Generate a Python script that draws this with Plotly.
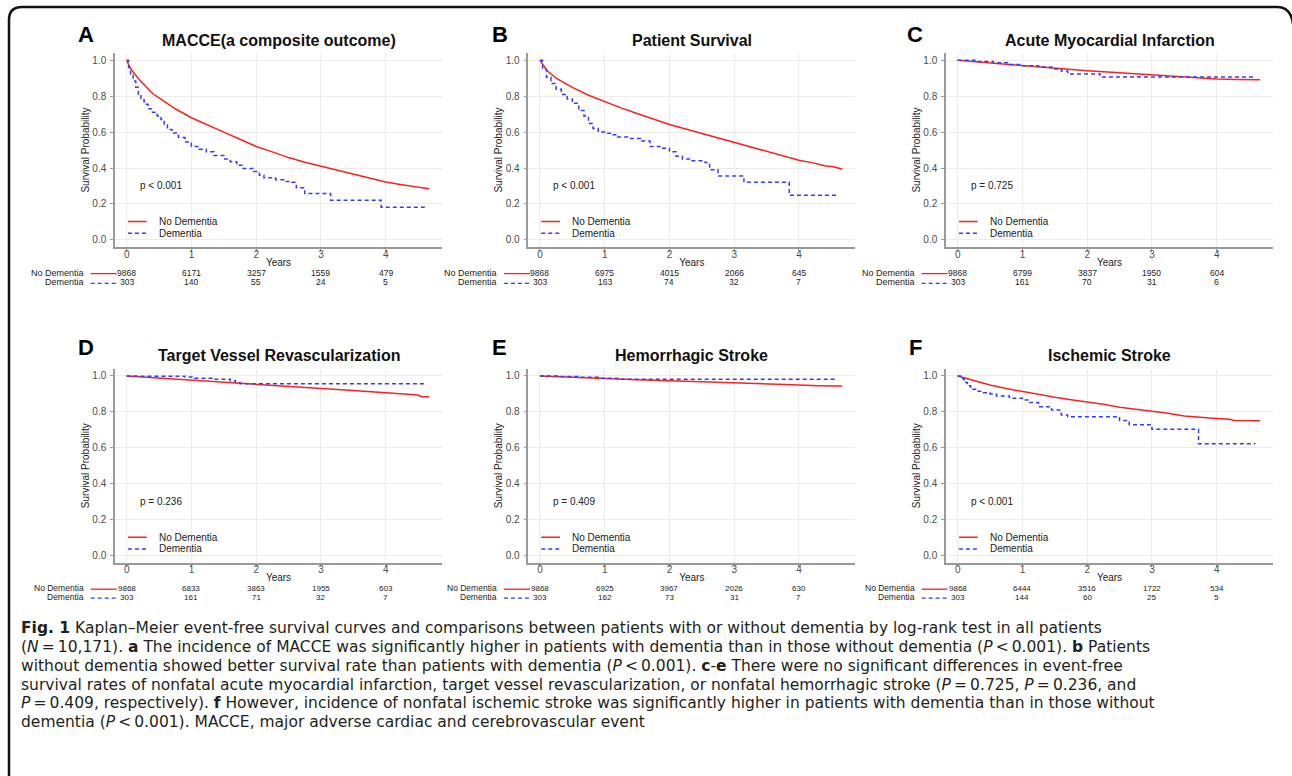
import plotly.graph_objects as go

W, H = 1292, 776

# ---------------- data ----------------
titles = ["MACCE(a composite outcome)", "Patient Survival", "Acute Myocardial Infarction",
          "Target Vessel Revascularization", "Hemorrhagic Stroke", "Ischemic Stroke"]
letters = ["A", "B", "C", "D", "E", "F"]
pvalues = ["p &lt; 0.001", "p &lt; 0.001", "p = 0.725", "p = 0.236", "p = 0.409", "p &lt; 0.001"]
groups = ["No Dementia", "Dementia"]
risk_times = [0, 1, 2, 3, 4]

A_nd_t = [0, 0.05, 0.1, 0.2, 0.3, 0.4, 0.5, 0.75, 1.0, 1.25, 1.5, 1.75, 2.0, 2.25, 2.5, 2.75, 3.0, 3.25, 3.5, 3.75, 4.0, 4.2, 4.4, 4.55, 4.67]
A_nd_s = [1.0, 0.96, 0.935, 0.89, 0.852, 0.815, 0.79, 0.73, 0.68, 0.638, 0.60, 0.56, 0.52, 0.49, 0.458, 0.432, 0.41, 0.386, 0.365, 0.343, 0.322, 0.31, 0.298, 0.293, 0.285]
A_d_t = [0, 0.03, 0.06, 0.1, 0.14, 0.18, 0.22, 0.27, 0.33, 0.4, 0.47, 0.53, 0.58, 0.63, 0.7, 0.8, 0.9, 1.0, 1.12, 1.23, 1.35, 1.5, 1.6, 1.7, 1.78, 1.96, 2.05, 2.12, 2.3, 2.45, 2.55, 2.62, 2.75, 3.15, 3.93, 4.63]
A_d_s = [1.0, 0.96, 0.92, 0.885, 0.85, 0.81, 0.78, 0.755, 0.73, 0.71, 0.69, 0.67, 0.64, 0.615, 0.595, 0.57, 0.545, 0.52, 0.505, 0.49, 0.47, 0.45, 0.435, 0.415, 0.397, 0.38, 0.36, 0.346, 0.335, 0.325, 0.32, 0.29, 0.258, 0.22, 0.182, 0.182]

B_nd_t = [0, 0.05, 0.1, 0.25, 0.5, 0.75, 1.0, 1.25, 1.5, 1.75, 2.0, 2.25, 2.5, 2.75, 3.0, 3.25, 3.5, 3.75, 4.0, 4.2, 4.4, 4.55, 4.67]
B_nd_s = [1.0, 0.97, 0.946, 0.90, 0.849, 0.805, 0.769, 0.735, 0.704, 0.672, 0.642, 0.617, 0.592, 0.566, 0.54, 0.515, 0.49, 0.465, 0.443, 0.43, 0.412, 0.405, 0.393]
B_d_t = [0, 0.04, 0.1, 0.17, 0.25, 0.33, 0.42, 0.5, 0.6, 0.68, 0.75, 0.82, 0.9, 1.0, 1.1, 1.2, 1.4, 1.55, 1.7, 1.85, 2.0, 2.1, 2.2, 2.35, 2.55, 2.62, 2.75, 3.15, 3.85, 4.6]
B_d_s = [1.0, 0.95, 0.905, 0.87, 0.838, 0.81, 0.785, 0.76, 0.72, 0.69, 0.648, 0.62, 0.60, 0.594, 0.585, 0.572, 0.565, 0.55, 0.52, 0.51, 0.49, 0.465, 0.45, 0.44, 0.43, 0.39, 0.355, 0.32, 0.248, 0.248]

C_nd_t = [0, 0.5, 1.0, 1.5, 2.0, 2.5, 3.0, 3.5, 4.0, 4.3, 4.67]
C_nd_s = [1.0, 0.985, 0.97, 0.956, 0.942, 0.93, 0.918, 0.907, 0.896, 0.893, 0.892]
C_d_t = [0, 0.3, 0.55, 0.8, 1.0, 1.25, 1.45, 1.6, 1.7, 2.2, 4.6]
C_d_s = [1.0, 0.993, 0.986, 0.976, 0.97, 0.962, 0.952, 0.94, 0.924, 0.907, 0.907]

D_nd_t = [0, 0.5, 1.0, 1.5, 2.0, 2.5, 3.0, 3.5, 4.0, 4.5, 4.55, 4.67]
D_nd_s = [1.0, 0.989, 0.978, 0.965, 0.952, 0.941, 0.931, 0.919, 0.907, 0.894, 0.885, 0.885]
D_d_t = [0, 0.2, 0.9, 1.05, 1.35, 1.6, 1.68, 1.75, 4.6]
D_d_s = [1.0, 0.999, 0.994, 0.988, 0.982, 0.974, 0.963, 0.957, 0.957]

E_nd_t = [0, 0.5, 1.0, 1.5, 2.0, 2.5, 3.0, 3.5, 4.0, 4.3, 4.67]
E_nd_s = [1.0, 0.992, 0.985, 0.979, 0.974, 0.969, 0.963, 0.957, 0.95, 0.946, 0.944]
E_d_t = [0, 0.3, 0.6, 0.9, 1.2, 4.6]
E_d_s = [1.0, 0.997, 0.993, 0.988, 0.982, 0.982]

F_nd_t = [0, 0.1, 0.25, 0.5, 0.75, 1.0, 1.25, 1.5, 1.75, 2.0, 2.25, 2.5, 2.75, 3.0, 3.25, 3.5, 3.75, 4.0, 4.2, 4.27, 4.67]
F_nd_s = [1.0, 0.99, 0.974, 0.95, 0.93, 0.913, 0.897, 0.881, 0.867, 0.855, 0.842, 0.826, 0.815, 0.805, 0.793, 0.777, 0.768, 0.763, 0.759, 0.752, 0.75]
F_d_t = [0, 0.05, 0.1, 0.15, 0.2, 0.3, 0.4, 0.5, 0.6, 0.8, 1.0, 1.1, 1.25, 1.45, 1.6, 1.7, 2.5, 2.65, 3.0, 3.72, 4.6]
F_d_s = [1.0, 0.985, 0.963, 0.945, 0.926, 0.915, 0.907, 0.9, 0.889, 0.876, 0.866, 0.852, 0.829, 0.81, 0.783, 0.773, 0.752, 0.729, 0.703, 0.622, 0.622]

A_risk_nd = [9868, 6171, 3257, 1559, 479]
A_risk_d = [303, 140, 55, 24, 5]
B_risk_nd = [9868, 6975, 4015, 2066, 645]
B_risk_d = [303, 163, 74, 32, 7]
C_risk_nd = [9868, 6799, 3837, 1950, 604]
C_risk_d = [303, 161, 70, 31, 6]
D_risk_nd = [9868, 6833, 3863, 1955, 603]
D_risk_d = [303, 161, 71, 32, 7]
E_risk_nd = [9868, 6925, 3967, 2026, 630]
E_risk_d = [303, 162, 73, 31, 7]
F_risk_nd = [9868, 6444, 3516, 1722, 534]
F_risk_d = [303, 144, 60, 25, 5]

caption_lines = [
    "<b>Fig. 1</b> Kaplan–Meier event-free survival curves and comparisons between patients with or without dementia by log-rank test in all patients",
    "(<i>N</i>\u2009=\u200910,171). <b>a</b> The incidence of MACCE was significantly higher in patients with dementia than in those without dementia (<i>P</i>\u2009&lt;\u20090.001). <b>b</b> Patients",
    "without dementia showed better survival rate than patients with dementia (<i>P</i>\u2009&lt;\u20090.001). <b>c</b>-<b>e</b> There were no significant differences in event-free",
    "survival rates of nonfatal acute myocardial infarction, target vessel revascularization, or nonfatal hemorrhagic stroke (<i>P</i>\u2009=\u20090.725, <i>P</i>\u2009=\u20090.236, and",
    "<i>P</i>\u2009=\u20090.409, respectively). <b>f</b> However, incidence of nonfatal ischemic stroke was significantly higher in patients with dementia than in those without",
    "dementia (<i>P</i>\u2009&lt;\u20090.001). MACCE, major adverse cardiac and cerebrovascular event",
]

panels = [
    (A_nd_t, A_nd_s, A_d_t, A_d_s, A_risk_nd, A_risk_d),
    (B_nd_t, B_nd_s, B_d_t, B_d_s, B_risk_nd, B_risk_d),
    (C_nd_t, C_nd_s, C_d_t, C_d_s, C_risk_nd, C_risk_d),
    (D_nd_t, D_nd_s, D_d_t, D_d_s, D_risk_nd, D_risk_d),
    (E_nd_t, E_nd_s, E_d_t, E_d_s, E_risk_nd, E_risk_d),
    (F_nd_t, F_nd_s, F_d_t, F_d_s, F_risk_nd, F_risk_d),
]

# ---------------- style / layout ----------------
RED = "#ff1f1f"
BLUE = "#3a3aff"
FONT = "Liberation Sans, Arial, sans-serif"
CAP_FONT = "DejaVu Sans, Open Sans, sans-serif"
AXC = "#9a9a9a"
GRID = "#ececec"
DASH = "4px,3px"

XR = [-0.18, 4.87]
YR = [-0.04, 1.04]
cols_px = [(115, 442), (528.3, 855.3), (946, 1273)]
rows_px = [(53.1, 247.0), (368.8, 562.7)]
title_y = [40.7, 356]
letter_x = [86, 499.5, 915]
letter_y = [35, 347]
risk_y = [(272.6, 282.4), (588.2, 597.2)]
risk_fs = [8.5, 8]


def px(xp):
    return xp / W


def py(yp):
    return 1 - yp / H


def xpix(c, t):
    x0, x1 = cols_px[c]
    return x0 + (t - XR[0]) / (XR[1] - XR[0]) * (x1 - x0)


fig = go.Figure()
annotations = []
shapes = []

for i, (nd_t, nd_s, d_t, d_s, rnd, rd) in enumerate(panels):
    r, c = divmod(i, 3)
    n = "" if i == 0 else str(i + 1)
    xa, ya = "x" + n, "y" + n

    fig.add_trace(go.Scatter(x=nd_t, y=nd_s, mode="lines", name=groups[0],
                             line=dict(color=RED, width=1.5), showlegend=False,
                             xaxis=xa, yaxis=ya, hoverinfo="skip"))
    fig.add_trace(go.Scatter(x=d_t, y=d_s, mode="lines", name=groups[1],
                             line=dict(color=BLUE, width=1.5, dash=DASH, shape="hv"),
                             showlegend=False, xaxis=xa, yaxis=ya, hoverinfo="skip"))

    axis_common = dict(showgrid=True, gridcolor=GRID, gridwidth=1, zeroline=False,
                       showline=True, linecolor=AXC, linewidth=1.5,
                       ticks="outside", ticklen=3, tickcolor=AXC, tickwidth=1,
                       tickfont=dict(size=10, color="#4d4d4d", family=FONT))
    fig.update_layout(**{
        "xaxis" + n: dict(domain=[px(cols_px[c][0]), px(cols_px[c][1])], anchor=ya,
                          range=XR, tickvals=[0, 1, 2, 3, 4], ticklabelstandoff=-6,
                          title=dict(text="Years", standoff=0, font=dict(size=10, color="#222", family=FONT)),
                          **axis_common),
        "yaxis" + n: dict(domain=[py(rows_px[r][1]), py(rows_px[r][0])], anchor=xa,
                          range=YR, tickvals=[0, 0.2, 0.4, 0.6, 0.8, 1.0], ticklabelstandoff=2,
                          ticktext=["0.0", "0.2", "0.4", "0.6", "0.8", "1.0"],
                          title=dict(text="Survival Probability", standoff=1, font=dict(size=10, color="#222", family=FONT)),
                          **axis_common),
    })

    # legend background box inside the plot
    shapes.append(dict(type="rect", xref=xa, yref=ya, x0=-0.165, x1=1.47, y0=-0.036, y1=0.17,
                       fillcolor="white", line=dict(width=0), layer="below"))
    # legend samples and labels
    for k, (yy, col, dsh) in enumerate([(0.102, RED, "solid"), (0.037, BLUE, DASH)]):
        shapes.append(dict(type="line", xref=xa, yref=ya, x0=0.02, x1=0.31, y0=yy, y1=yy,
                           line=dict(color=col, width=1.5, dash=dsh), layer="above"))
        annotations.append(dict(xref=xa, yref=ya, x=0.47, y=yy, text=groups[k], showarrow=False,
                                xanchor="left", yanchor="middle",
                                font=dict(size=10, color="#222", family=FONT)))
    # p-value
    annotations.append(dict(xref=xa, yref=ya, x=0.175, y=0.30, text=pvalues[i], showarrow=False,
                            xanchor="left", yanchor="middle",
                            font=dict(size=10, color="#222", family=FONT)))
    # title and panel letter
    annotations.append(dict(xref="paper", yref="paper", x=px((cols_px[c][0] + cols_px[c][1]) / 2),
                            y=py(title_y[r]), text="<b>" + titles[i] + "</b>", showarrow=False,
                            xanchor="center", yanchor="middle",
                            font=dict(size=16, color="#111", family=FONT)))
    annotations.append(dict(xref="paper", yref="paper", x=px(letter_x[c]), y=py(letter_y[r]),
                            text="<b>" + letters[i] + "</b>", showarrow=False,
                            xanchor="center", yanchor="middle",
                            font=dict(size=22, color="#000", family=FONT)))
    # risk table
    x0p = xpix(c, 0)
    for k, (vals, col, dsh) in enumerate([(rnd, RED, "solid"), (rd, BLUE, DASH)]):
        yy = risk_y[r][k]
        fs = risk_fs[r]
        annotations.append(dict(xref="paper", yref="paper", x=px(x0p - 41), y=py(yy),
                                text=groups[k], showarrow=False, xanchor="right", yanchor="middle",
                                font=dict(size=fs + 0.5, color="#222", family=FONT)))
        shapes.append(dict(type="line", xref="paper", yref="paper", x0=px(x0p - 36), x1=px(x0p - 10),
                           y0=py(yy + 1), y1=py(yy + 1), line=dict(color=col, width=1.3, dash=dsh)))
        for t, v in zip(risk_times, vals):
            annotations.append(dict(xref=xa, yref="paper", x=t, y=py(yy), text=str(v), showarrow=False,
                                    xanchor="center", yanchor="middle",
                                    font=dict(size=fs, color="#222", family=FONT)))

# caption
cap_y = [628.3, 647.0, 665.8, 684.5, 703.2, 721.9]
for line, yy in zip(caption_lines, cap_y):
    annotations.append(dict(xref="paper", yref="paper", x=px(20), y=py(yy), text=line, showarrow=False,
                            xanchor="left", yanchor="middle", borderpad=0,
                            font=dict(size=15.5, color="#231f20", family=CAP_FONT)))

# outer frame (rounded, open at the bottom/right as in the source page)
frame = "M {:.5f},{:.5f} L {:.5f},{:.5f} Q {:.5f},{:.5f} {:.5f},{:.5f} L {:.5f},{:.5f} Q {:.5f},{:.5f} {:.5f},{:.5f}".format(
    px(9), py(776), px(9), py(20), px(9), py(7), px(22), py(7), px(1277), py(7), px(1291), py(7), px(1293), py(24))
shapes.append(dict(type="path", xref="paper", yref="paper", path=frame,
                   line=dict(color="#111", width=2.5)))

fig.update_layout(width=W, height=H, margin=dict(l=0, r=0, t=0, b=0),
                  paper_bgcolor="white", plot_bgcolor="white",
                  font=dict(family=FONT), showlegend=False,
                  annotations=annotations, shapes=shapes)

fig.write_html("out.html", config={"displayModeBar": False},
               post_script="document.body.style.margin='0';")
